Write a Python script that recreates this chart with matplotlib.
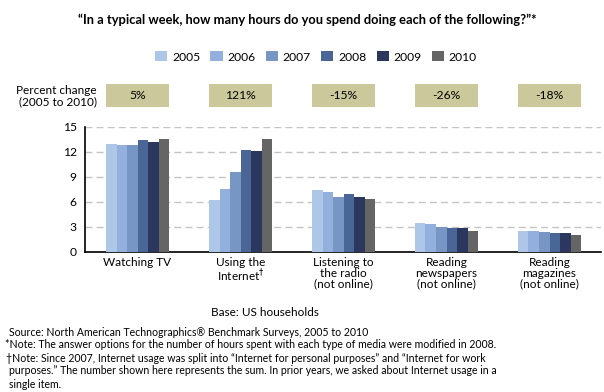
import matplotlib
matplotlib.use("Agg")
import matplotlib.pyplot as plt
import matplotlib.transforms as mtransforms
from matplotlib.patches import Rectangle, Patch
import numpy as np

plt.rcParams['font.family'] = ['Lato', 'DejaVu Sans']

categories = ["Watching TV", "Using the\nInternet$^{\\dagger}$", "Listening to\nthe radio\n(not online)",
              "Reading\nnewspapers\n(not online)", "Reading\nmagazines\n(not online)"]
years = ["2005", "2006", "2007", "2008", "2009", "2010"]
values = {
    "2005": [12.9, 6.2, 7.4, 3.45, 2.5],
    "2006": [12.8, 7.5, 7.2, 3.3, 2.5],
    "2007": [12.8, 9.6, 6.6, 3.0, 2.4],
    "2008": [13.4, 12.2, 6.9, 2.85, 2.25],
    "2009": [13.2, 12.1, 6.6, 2.85, 2.25],
    "2010": [13.5, 13.5, 6.3, 2.5, 2.0],
}
pct_change = ["5%", "121%", "-15%", "-26%", "-18%"]
yticks = [0, 3, 6, 9, 12, 15]
colors = ["#aec6e8", "#93afdb", "#7896c4", "#4a6696", "#2b375e", "#656565"]
box_color = "#cbc99c"

W, H = 604, 392
fig = plt.figure(figsize=(W / 100, H / 100), dpi=100)
ax = fig.add_axes([85 / W, 1 - 251.7 / H, 516 / W, 125 / H])

x = np.arange(len(categories))
bw = 0.102
for i, y in enumerate(years):
    ax.bar(x + (i - 2.5) * bw, values[y], width=bw, color=colors[i], linewidth=0, zorder=3)

ax.set_xlim(-0.51, 4.5)
ax.set_ylim(0, 15)
ax.set_yticks(yticks)
ax.set_yticklabels([str(t) for t in yticks], fontsize=8.7)
ax.set_xticks(x)
ax.set_xticklabels(categories, fontsize=8.5, linespacing=0.95)
ax.tick_params(axis='both', length=0)
ax.tick_params(axis='y', pad=6)
ax.tick_params(axis='x', pad=4)
for s in ["top", "right"]:
    ax.spines[s].set_visible(False)
ax.spines["left"].set_linewidth(1.2)
ax.spines["bottom"].set_linewidth(1.2)
ax.yaxis.grid(True, color="#c4c4c4", linestyle=(0, (5, 3)), linewidth=1.0, zorder=0)
ax.set_axisbelow(True)

# percent change boxes
trans = mtransforms.blended_transform_factory(ax.transData, fig.transFigure)
gw = bw * 6
y0 = 1 - 107 / H
hgt = 23 / H
for xi, p in zip(x, pct_change):
    ax.add_patch(Rectangle((xi - gw / 2, y0), gw, hgt, transform=trans,
                           facecolor=box_color, edgecolor='none', clip_on=False))
    ax.text(xi, y0 + hgt / 2, p, transform=trans, ha='center', va='center', fontsize=8.7)

fig.text(97 / W, 1 - 96 / H, "Percent change\n(2005 to 2010)", ha='right', va='center',
         fontsize=8.5, linespacing=1.0)

# title
fig.text(307 / W, 1 - 20 / H,
         "\u201cIn a typical week, how many hours do you spend doing each of the following?\u201d*",
         ha='center', va='center', fontsize=9.3, fontweight='bold')

# legend
handles = [Patch(facecolor=c, edgecolor='none') for c in colors]
fig.legend(handles, years, loc='center', bbox_to_anchor=(316 / W, 1 - 57 / H), ncol=6,
           frameon=False, fontsize=8.7, handlelength=1.0, handleheight=0.9,
           handletextpad=0.4, columnspacing=0.85, borderaxespad=0, borderpad=0)

# footer
fig.text(265 / W, 1 - 313 / H, "Base: US households", ha='center', va='center', fontsize=8.5)
notes = [
    (9, 332, "Source: North American Technographics\u00ae Benchmark Surveys, 2005 to 2010"),
    (5, 345, "*Note: The answer options for the number of hours spent with each type of media were modified in 2008."),
    (6, 358, "\u2020Note: Since 2007, Internet usage was split into \u201cInternet for personal purposes\u201d and \u201cInternet for work"),
    (9, 371, "purposes.\u201d The number shown here represents the sum. In prior years, we asked about Internet usage in a"),
    (9, 384, "single item."),
]
for nx, ny, t in notes:
    fig.text(nx / W, 1 - ny / H, t, ha='left', va='center', fontsize=7.6)

fig.savefig("out.png", dpi=100)
